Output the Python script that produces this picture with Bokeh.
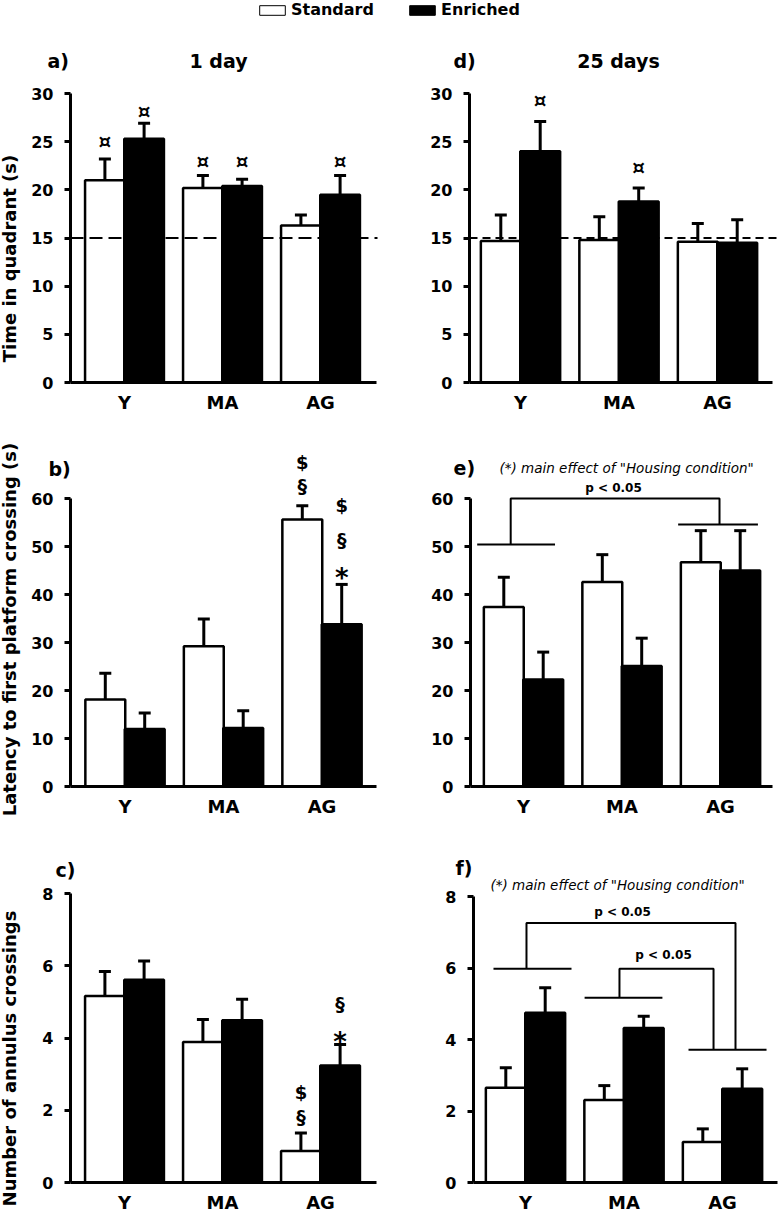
import numpy as np
from bokeh.plotting import figure
from bokeh.models import (ColumnDataSource, Label, Legend, LegendItem,
                          FixedTicker, Range1d)
from bokeh.layouts import column, row
from bokeh.embed import file_html
from bokeh.resources import INLINE
from bokeh.core.properties import value

# ---------------- data ----------------
groups = ["Y", "MA", "AG"]
series = ["Standard", "Enriched"]

# a) 1 day - time in quadrant (s)
a_std = [21.0, 20.2, 16.3]
a_std_sem = [2.2, 1.3, 1.1]
a_enr = [25.3, 20.4, 19.5]
a_enr_sem = [1.6, 0.7, 2.0]
# d) 25 days - time in quadrant (s)
d_std = [14.7, 14.8, 14.6]
d_std_sem = [2.7, 2.4, 1.9]
d_enr = [24.0, 18.8, 14.5]
d_enr_sem = [3.1, 1.4, 2.4]
# b) 1 day - latency to first platform crossing (s)
b_std = [18.1, 29.2, 55.6]
b_std_sem = [5.5, 5.7, 2.9]
b_enr = [12.0, 12.2, 33.8]
b_enr_sem = [3.3, 3.6, 8.3]
# e) 25 days - latency
e_std = [37.4, 42.6, 46.7]
e_std_sem = [6.2, 5.7, 6.6]
e_enr = [22.3, 25.1, 45.0]
e_enr_sem = [5.7, 5.8, 8.3]
# c) 1 day - number of annulus crossings
c_std = [5.16, 3.89, 0.87]
c_std_sem = [0.68, 0.62, 0.50]
c_enr = [5.61, 4.49, 3.24]
c_enr_sem = [0.52, 0.58, 0.58]
# f) 25 days - number of annulus crossings
f_std = [2.65, 2.31, 1.13]
f_std_sem = [0.56, 0.40, 0.37]
f_enr = [4.75, 4.32, 2.62]
f_enr_sem = [0.70, 0.33, 0.56]

chance_level = 15

# significance symbols: text, group index (1..3), series index (0 std, 1 enr), y
a_sym_text = ["¤", "¤", "¤", "¤", "¤"]
a_sym_group = [1, 1, 2, 2, 3]
a_sym_series = [0, 1, 0, 1, 1]
a_sym_y = [25.1, 28.2, 23.0, 23.0, 23.0]

d_sym_text = ["¤", "¤"]
d_sym_group = [1, 2]
d_sym_series = [1, 1]
d_sym_y = [29.3, 22.4]

b_sym_text = ["$", "§", "$", "§", "*"]
b_sym_group = [3, 3, 3, 3, 3]
b_sym_series = [0, 0, 1, 1, 1]
b_sym_y = [67.6, 62.7, 58.5, 51.3, 45.0]

c_sym_text = ["$", "§", "§", "*"]
c_sym_group = [3, 3, 3, 3]
c_sym_series = [0, 0, 1, 1]
c_sym_y = [2.50, 1.81, 4.95, 4.07]

# comparison brackets (x in group units, y in data units)
e_br_xs = [[0.53, 1.32], [2.57, 3.38], [0.87, 0.87, 2.99, 2.99]]
e_br_ys = [[50.4, 50.4], [54.6, 54.6], [50.4, 60.0, 60.0, 54.6]]
f_br_xs = [[0.675, 1.467], [1.60, 2.39], [2.655, 3.447],
           [1.01, 1.01, 3.132, 3.132], [1.954, 1.954, 2.909, 2.909]]
f_br_ys = [[5.98, 5.98], [5.17, 5.17], [3.715, 3.715],
           [5.98, 7.26, 7.26, 3.715], [5.17, 5.98, 5.98, 3.715]]

FONT = "DejaVu Sans"
BAR_W = 0.405
OFF = 0.2


def px2x(geom, px):
    return 1 + (px - geom["xc1"]) / geom["S"]


def py2y(geom, py):
    return (geom["B"] - py) / geom["ppu"]


def make_panel(geom, std, std_sem, enr, enr_sem, tick_max, tick_step,
               sym=None, brackets=None, dash=None):
    fl, ft, fw, fh = geom["fl"], geom["ft"], geom["fw"], geom["fh"]
    S = geom["S"]
    xr = Range1d(px2x(geom, fl), px2x(geom, fl + fw))
    yr = Range1d(py2y(geom, ft + fh), py2y(geom, ft))
    p = figure(width=fw, height=fh, x_range=xr, y_range=yr,
               output_backend="svg", toolbar_location=None, title=None,
               min_border=0)
    p.outline_line_color = None
    p.grid.visible = False
    p.background_fill_color = "white"
    xL = px2x(geom, geom["L"])
    xR = px2x(geom, geom["R"])

    g = np.arange(1, len(groups) + 1)
    src = ColumnDataSource(dict(
        xs=g - OFF, xe=g + OFF,
        std=std, enr=enr,
        std_top=np.array(std) + np.array(std_sem),
        enr_top=np.array(enr) + np.array(enr_sem)))

    p.vbar(x="xs", top="std", width=BAR_W, bottom=0, source=src,
           fill_color="white", line_color="black", line_width=2.5)
    p.vbar(x="xe", top="enr", width=BAR_W, bottom=0, source=src,
           fill_color="black", line_color="black", line_width=2.5)

    cw = 6.0 / S
    for xk, mk, tk in (("xs", "std", "std_top"), ("xe", "enr", "enr_top")):
        p.segment(x0=xk, y0=mk, x1=xk, y1=tk, source=src,
                  line_color="black", line_width=3)
    caps = ColumnDataSource(dict(
        cx0=np.concatenate([g - OFF - cw, g + OFF - cw]),
        cx1=np.concatenate([g - OFF + cw, g + OFF + cw]),
        cy=np.concatenate([src.data["std_top"], src.data["enr_top"]])))
    p.segment(x0="cx0", y0="cy", x1="cx1", y1="cy", source=caps,
              line_color="black", line_width=3)

    if dash is not None:
        pattern, xend_px = dash
        p.segment(x0=[xL], y0=[chance_level], x1=[px2x(geom, xend_px)],
                  y1=[chance_level], line_color="black", line_width=2,
                  line_dash=pattern)

    if sym is not None:
        txt, grp, ser, yy = sym
        xx = [gi - OFF if si == 0 else gi + OFF for gi, si in zip(grp, ser)]
        sizes, yoff = [], []
        for t in txt:
            if t == "*":
                sizes.append("26px"); yoff.append(7)
            elif t == "¤":
                sizes.append("20px"); yoff.append(0)
            elif t == "§":
                sizes.append("19px"); yoff.append(0)
            else:
                sizes.append("18px"); yoff.append(0)
        ssrc = ColumnDataSource(dict(x=xx, y=yy, t=txt, s=sizes, yo=yoff))
        p.text(x="x", y="y", text="t", source=ssrc, text_font=value(FONT),
               text_font_style="bold", text_font_size="s",
               text_align="center", text_baseline="middle",
               y_offset="yo", text_color="black")

    if brackets is not None:
        p.multi_line(xs=brackets[0], ys=brackets[1], line_color="black",
                     line_width=2)

    xa = p.xaxis[0]
    xa.fixed_location = 0
    xa.bounds = (xL, xR)
    xa.ticker = FixedTicker(ticks=list(g))
    xa.major_label_overrides = {int(i): s for i, s in zip(g, groups)}
    xa.major_tick_line_color = None
    xa.minor_tick_line_color = None
    xa.axis_line_width = 3
    xa.major_label_standoff = 3
    xa.major_label_text_font = FONT
    xa.major_label_text_font_style = "bold"
    xa.major_label_text_font_size = "18px"
    xa.major_label_text_color = "black"

    ya = p.yaxis[0]
    ya.fixed_location = xL
    ya.ticker = FixedTicker(ticks=list(range(0, tick_max + 1, tick_step)))
    ya.bounds = (0, tick_max)
    ya.axis_line_width = 3
    ya.major_tick_out = 6
    ya.major_tick_in = 0
    ya.major_tick_line_width = 3
    ya.minor_tick_line_color = None
    ya.major_label_standoff = 11
    ya.major_label_text_font = FONT
    ya.major_label_text_font_style = "bold"
    ya.major_label_text_font_size = "16px"
    ya.major_label_text_color = "black"
    return p


def lab(p, geom, px, py, text, size, style="bold", align="left", vertical=False):
    p.add_layout(Label(x=px2x(geom, px), y=py2y(geom, py), text=text,
                       text_font=FONT, text_font_size=f"{size}px",
                       text_font_style=style, text_align=align,
                       text_baseline="middle",
                       angle=np.pi / 2 if vertical else 0.0,
                       text_color="black"))


# page geometry (pixels on the page); frame covers the whole figure
ga = dict(fl=0, ft=20, fw=390, fh=412, L=70, R=376, B=382, ppu=289 / 30, xc1=124, S=98.0)
gd = dict(fl=390, ft=20, fw=388, fh=412, L=469, R=772, B=382, ppu=289 / 30, xc1=520, S=98.5)
gb = dict(fl=0, ft=432, fw=390, fh=400, L=70, R=376, B=786, ppu=288 / 60, xc1=124.5, S=98.5)
ge = dict(fl=390, ft=432, fw=388, fh=400, L=470, R=772, B=786, ppu=288 / 60, xc1=523, S=98.5)
gc = dict(fl=0, ft=832, fw=390, fh=384, L=70, R=376, B=1182, ppu=289 / 8, xc1=124, S=98.0)
gf = dict(fl=390, ft=832, fw=388, fh=384, L=473, R=777, B=1182, ppu=286 / 8, xc1=525, S=98.5)

pa = make_panel(ga, a_std, a_std_sem, a_enr, a_enr_sem, 30, 5,
                sym=(a_sym_text, a_sym_group, a_sym_series, a_sym_y),
                dash=("13 6", 377))
pd_ = make_panel(gd, d_std, d_std_sem, d_enr, d_enr_sem, 30, 5,
                 sym=(d_sym_text, d_sym_group, d_sym_series, d_sym_y),
                 dash=("8 5", 777))
pb = make_panel(gb, b_std, b_std_sem, b_enr, b_enr_sem, 60, 10,
                sym=(b_sym_text, b_sym_group, b_sym_series, b_sym_y))
pe = make_panel(ge, e_std, e_std_sem, e_enr, e_enr_sem, 60, 10,
                brackets=(e_br_xs, e_br_ys))
pc = make_panel(gc, c_std, c_std_sem, c_enr, c_enr_sem, 8, 2,
                sym=(c_sym_text, c_sym_group, c_sym_series, c_sym_y))
pf = make_panel(gf, f_std, f_std_sem, f_enr, f_enr_sem, 8, 2,
                brackets=(f_br_xs, f_br_ys))

# titles and notes
lab(pa, ga, 47, 60, "a)", 19)
lab(pa, ga, 218, 60, "1 day", 19, align="center")
lab(pd_, gd, 453, 60, "d)", 19)
lab(pd_, gd, 618, 60, "25 days", 19, align="center")
lab(pb, gb, 48, 468, "b)", 19)
lab(pe, ge, 453, 467, "e)", 19)
lab(pc, gc, 55, 869, "c)", 19)
lab(pf, gf, 455, 867, "f)", 19)

note = '(*) main effect of  "Housing condition"'
lab(pe, ge, 499, 467, note, 13.5, style="italic")
lab(pe, ge, 613, 487, "p < 0.05", 12, align="center")
lab(pf, gf, 490, 884, note, 13.5, style="italic")
lab(pf, gf, 622, 911, "p < 0.05", 12, align="center")
lab(pf, gf, 663, 954, "p < 0.05", 12, align="center")

# y axis titles
lab(pa, ga, 9, 258, "Time in quadrant (s)", 18, align="center", vertical=True)
lab(pb, gb, 9, 629, "Latency to first platform crossing (s)", 18,
    align="center", vertical=True)
lab(pc, gc, 9, 1058, "Number of annulus crossings", 18,
    align="center", vertical=True)

# legend strip (x/y ranges in pixels; the two key renderers sit hidden
# underneath the filled legend swatch)
lg = figure(width=778, height=20, x_range=Range1d(0, 778), y_range=Range1d(0, 20),
            output_backend="svg", toolbar_location=None, title=None,
            x_axis_location=None, y_axis_location=None, min_border=0)
lg.outline_line_color = None
lg.grid.visible = False
lsrc = ColumnDataSource(dict(x=[412.0], bottom=[10.0], top=[11.0]))
r_std = lg.vbar(x="x", bottom="bottom", top="top", width=2, source=lsrc,
                fill_color="white", line_color="black", line_width=1)
r_enr = lg.vbar(x="x", bottom="bottom", top="top", width=2, source=lsrc,
                fill_color="black", line_color="black", line_width=1)
legend = Legend(items=[LegendItem(label=series[0], renderers=[r_std]),
                       LegendItem(label=series[1], renderers=[r_enr])],
                orientation="horizontal", location=(256, 1), padding=0,
                margin=0, border_line_color=None, background_fill_alpha=0,
                glyph_width=32, glyph_height=12, label_standoff=3, spacing=32,
                label_width=83, label_height=12, label_text_font=FONT,
                label_text_font_style="bold", label_text_font_size="16px",
                label_text_color="black")
lg.add_layout(legend)

layout = column(lg, row(pa, pd_), row(pb, pe), row(pc, pf))

open("out.html", "w").write(file_html(layout, INLINE))
